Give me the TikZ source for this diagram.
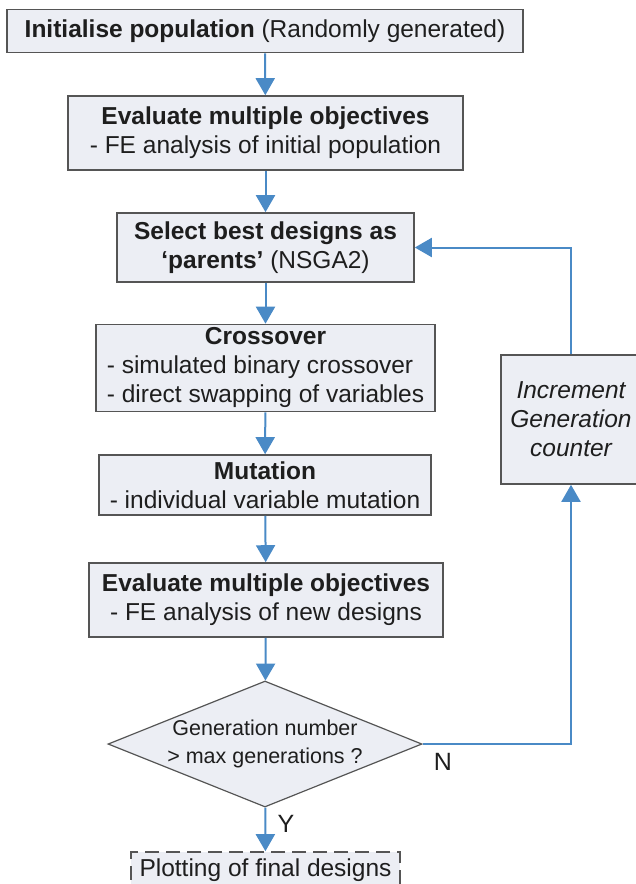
\documentclass[tikz,border=0pt]{standalone}
\usepackage{fontspec}
\setmainfont{Liberation Sans}
\usetikzlibrary{arrows.meta,shapes.geometric}

\definecolor{flowblue}{RGB}{74,138,198}
\definecolor{boxfill}{RGB}{236,238,244}
\definecolor{boxline}{RGB}{85,85,85}
\definecolor{inkgray}{RGB}{30,30,30}

\tikzset{
  procbox/.style={draw=boxline, line width=1.6pt, fill=boxfill, text=inkgray,
    align=center, inner sep=0pt, font=\fontsize{24.5}{29}\selectfont},
  decision/.style={diamond, aspect=2.49, draw=boxline, line width=1.2pt,
    fill=boxfill, inner sep=0pt},
  decisiontext/.style={text=inkgray, align=center, inner sep=0pt,
    font=\fontsize{21.5}{28}\selectfont},
  flow/.style={draw=flowblue, line width=2pt,
    -{Triangle[length=17pt,width=19pt]}},
  branch/.style={text=inkgray, font=\fontsize{25}{28}\selectfont, inner sep=0pt},
}

\begin{document}
\begin{tikzpicture}[x=1pt, y=-1pt]
  \useasboundingbox (0,0) rectangle (636,884);

  % main column of steps
  \node[procbox, minimum width=516pt, minimum height=43pt] (init) at (265,31)
    {\textbf{Initialise population} (Randomly generated)};
  \node[procbox, minimum width=395pt, minimum height=74pt] (evalA) at (265.5,133)
    {\textbf{Evaluate multiple objectives}\\- FE analysis of initial population};
  \node[procbox, minimum width=297pt, minimum height=69pt] (select) at (265.5,247.5)
    {\textbf{Select best designs as}\\\textbf{‘parents’} (NSGA2)};
  \node[procbox, minimum width=339pt, minimum height=86pt] (cross) at (265.5,368)
    {\begin{tabular}{@{}l@{}}
       \multicolumn{1}{@{}c@{}}{\textbf{Crossover}}\\
       - simulated binary crossover\\
       - direct swapping of variables
     \end{tabular}};
  \node[procbox, minimum width=332pt, minimum height=60pt] (mut) at (265,485)
    {\textbf{Mutation}\\- individual variable mutation};
  \node[procbox, minimum width=354pt, minimum height=74pt] (evalB) at (266,600)
    {\textbf{Evaluate multiple objectives}\\- FE analysis of new designs};

  % decision and final step
  \node[decision, minimum width=314pt, minimum height=126pt] (check) at (265,744) {};
  \node[decisiontext] (checktext) at (check.center)
    {Generation number\\> max generations ?};
  \node[procbox, dashed, dash pattern=on 14pt off 7pt, minimum width=269pt,
    minimum height=36pt] (plot) at (265.5,870) {Plotting of final designs};

  % loop-back step
  \node[procbox, minimum width=140pt, minimum height=129pt,
    font=\fontsize{24.5}{29}\selectfont\itshape] (incr) at (571,419.5)
    {Increment\\Generation\\counter};

  % connectors
  \draw[flow] (init) -- (evalA);
  \draw[flow] (evalA) -- (select);
  \draw[flow] (select) -- (cross);
  \draw[flow] (cross) -- (mut);
  \draw[flow] (mut) -- (evalB);
  \draw[flow] (evalB) -- (check);
  \draw[flow] (check) -- (plot);
  \draw[flow] (check.east) -| (incr.south);
  \draw[flow] (incr.north) |- (select.east);

  % branch labels
  \node[branch] (lblY) at (286,824) {Y};
  \node[branch] (lblN) at (443,762) {N};
\end{tikzpicture}
\end{document}
